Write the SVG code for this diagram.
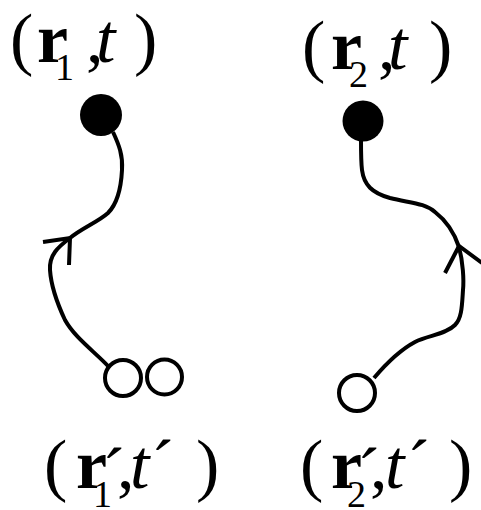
<svg xmlns="http://www.w3.org/2000/svg" width="481" height="510" viewBox="0 0 481 510">
<style>
.t{font-family:"Liberation Serif","Times New Roman",serif;font-size:70px;fill:#000}
.b{font-weight:bold}
.i{font-style:italic}
.s{font-size:38px}
.dot{fill:#000}
.open{fill:#fff;stroke:#000;stroke-width:4}
.ln{fill:none;stroke:#000;stroke-width:4;stroke-linecap:butt;stroke-linejoin:miter}
</style>
<rect width="481" height="510" fill="#fff"/>
<g id="label-r1t">
<text class="t"><tspan x="10" y="62">(</tspan><tspan class="b" x="37" y="62">r</tspan><tspan class="s" x="55" y="80">1</tspan><tspan x="86" y="62">,</tspan><tspan class="i" x="96" y="62">t</tspan><tspan x="134" y="62">)</tspan></text>
</g>
<g id="label-r2t">
<text class="t"><tspan x="302" y="69">(</tspan><tspan class="b" x="331" y="69">r</tspan><tspan class="s" x="349" y="87">2</tspan><tspan x="378" y="69">,</tspan><tspan class="i" x="388" y="69">t</tspan><tspan x="429" y="69">)</tspan></text>
</g>
<g id="label-r1p">
<text class="t"><tspan x="44" y="488">(</tspan><tspan class="b" x="76" y="488">r</tspan><tspan class="s" x="93" y="507">1</tspan><tspan x="102" y="496">´</tspan><tspan x="117" y="488">,</tspan><tspan class="i" x="130" y="488">t</tspan><tspan x="151" y="488">´</tspan><tspan x="196" y="488">)</tspan></text>
</g>
<g id="label-r2p">
<text class="t"><tspan x="300" y="488">(</tspan><tspan class="b" x="331" y="488">r</tspan><tspan class="s" x="347" y="507">2</tspan><tspan x="357" y="496">´</tspan><tspan x="370" y="488">,</tspan><tspan class="i" x="385" y="488">t</tspan><tspan x="407" y="488">´</tspan><tspan x="449" y="488">)</tspan></text>
</g>
<g id="connectors">
<path class="ln" d="M113,132 C119,145 123,155 122,170 C121,190 116,205 108,213 C98,222 82,228 70,238 C58,247 49,255 50,270 C51,285 57,303 65,320 C75,338 95,352 108,366"/>
<polyline class="ln" points="43,242 70,238 69,265"/>
<path class="ln" d="M361,140 C361,152 361,162 362,170 C364,185 372,193 390,198 C410,203 425,203 435,212 C448,222 455,235 459,247 C463,262 464,280 463,290 C462,305 462,318 455,325 C445,335 428,335 415,342 C400,350 385,365 374,378"/>
<polyline class="ln" points="445,273 459,246 482,263"/>
</g>
<g id="node-r1t"><circle class="dot" cx="101" cy="115" r="21"/></g>
<g id="node-r2t"><circle class="dot" cx="363" cy="121" r="20.5"/></g>
<g id="node-r1p-a"><circle class="open" cx="123" cy="378" r="18"/></g>
<g id="node-r1p-b"><circle class="open" cx="164.5" cy="377" r="17.5"/></g>
<g id="node-r2p"><circle class="open" cx="357" cy="393" r="18"/></g>
</svg>
